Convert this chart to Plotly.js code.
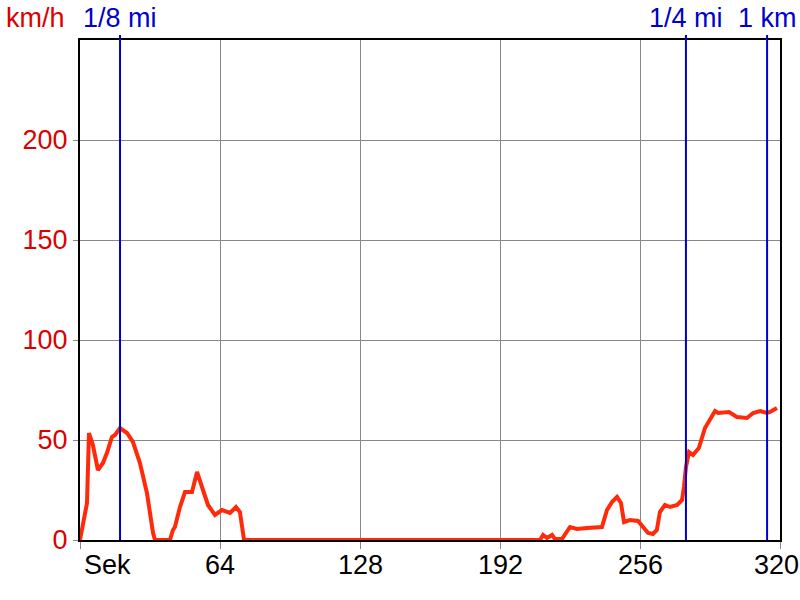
<!DOCTYPE html>
<html>
<head>
<meta charset="utf-8">
<script src="https://cdn.plot.ly/plotly-3.0.1.min.js"></script>
<style>html,body{margin:0;padding:0;background:#fff;}#chart{width:800px;height:600px;}</style>
</head>
<body>
<div id="chart"></div>
<script>
// time in seconds
var timeSec = [0, 3.2, 4.1, 5.9, 8.2, 10.5, 12.3, 14.6, 16.0, 18.3, 21.5, 24.2, 27.4, 30.6, 33.4, 34.3,
  41.1, 42.5, 43.4, 45.7, 48.0, 51.2, 53.5, 55.8, 58.5, 61.7, 64.9, 68.6, 71.3, 73.1, 75,
  210.3, 211.7, 213.5, 215.8, 217.1, 220.3, 224.0, 227.2, 231.8, 238.6, 240.9, 243.2, 245.5,
  247.3, 248.7, 251.4, 255.1, 257.4, 259.7, 261.9, 263.7, 265.1, 267.4, 269.7, 273.0, 275.2,
  276.1, 277.0, 278.4, 280.2, 282.9, 285.7, 288.0, 290.3, 291.7, 294.9, 296.7, 300.3, 304.9,
  307.7, 310.9, 314.1, 315.4, 318.6];
// speed km/h
var speedKmh = [0, 18.5, 53.5, 47.5, 35, 38.5, 43.5, 51.5, 52.5, 56, 53.5, 49, 38.5, 23.5, 3.5, 0,
  0, 5, 6.5, 16.5, 24, 24, 34, 26.5, 17.5, 12.5, 15, 13.5, 16.5, 14, 0,
  0, 2.5, 1, 2.5, 0.5, 0.5, 6.5, 5.5, 6, 6.5, 15, 19, 21.5,
  18.5, 9, 10, 9.5, 6.5, 3.5, 3, 5, 14, 17.5, 16.5, 17.5, 20,
  26.5, 36.5, 44, 42.5, 46, 56, 60, 64.5, 63.5, 63.5, 64, 61.5, 61,
  63.5, 64.5, 63.5, 64, 66];
var markerPos = [18.3, 277.0, 314.1];
var markerLabels = ['1/8 mi', '1/4 mi', '1 km'];
var xTickVals = [0, 64, 128, 192, 256, 320];
var xTickText = ['Sek', '64', '128', '192', '256', '320'];
var yTickVals = [0, 50, 100, 150, 200];

var FONT = 'Liberation Sans, Arial';
var FS = 27;

var shapes = markerPos.map(function (p) {
  return {type: 'line', xref: 'x', yref: 'paper', x0: p, x1: p, y0: 0, y1: 1.01,
    line: {color: '#0000cc', width: 2}};
});
var annotations = markerPos.map(function (p, i) {
  return {xref: 'x', yref: 'paper', x: p, y: 1.044, text: markerLabels[i], showarrow: false,
    xanchor: 'center', yanchor: 'middle', font: {family: FONT, size: FS, color: '#0000cc'}};
});
annotations.push({xref: 'paper', yref: 'paper', x: -0.109, y: 1.044, text: 'km/h', showarrow: false,
  xanchor: 'left', yanchor: 'middle', font: {family: FONT, size: FS, color: '#dd0000'}});
var lastIdx = xTickVals.length - 1;
xTickVals.forEach(function (v, i) {
  annotations.push({xref: 'x', yref: 'paper', x: v, y: -0.05, text: xTickText[i], showarrow: false,
    xanchor: i === 0 ? 'left' : 'center', xshift: i === 0 ? 2 : (i === lastIdx ? -4 : 0), yanchor: 'middle',
    font: {family: FONT, size: FS, color: '#000000'}});
});

var trace = {x: timeSec, y: speedKmh, type: 'scatter', mode: 'lines',
  line: {color: '#ff2a0a', width: 4}, hoverinfo: 'none', cliponaxis: false};

var layout = {
  width: 800, height: 600,
  margin: {l: 80, r: 20, t: 40, b: 60},
  paper_bgcolor: '#ffffff', plot_bgcolor: '#ffffff',
  showlegend: false,
  font: {family: FONT, size: FS},
  xaxis: {range: [0, 320], tickvals: xTickVals, showticklabels: false, showgrid: true,
    gridcolor: '#888888', gridwidth: 1, showline: true, linecolor: '#000000', linewidth: 2,
    mirror: true, ticks: 'outside', ticklen: 7, tickcolor: '#888888', tickwidth: 1,
    zeroline: false, fixedrange: true},
  yaxis: {range: [0, 250], tickvals: yTickVals, showgrid: true,
    gridcolor: '#888888', gridwidth: 1, showline: true, linecolor: '#000000', linewidth: 2,
    mirror: true, ticks: 'outside', ticklen: 5, tickcolor: '#888888', tickwidth: 1,
    tickfont: {color: '#dd0000', size: FS}, zeroline: false, fixedrange: true},
  shapes: shapes,
  annotations: annotations
};
Plotly.newPlot('chart', [trace], layout, {staticPlot: true, displayModeBar: false});
</script>
</body>
</html>
